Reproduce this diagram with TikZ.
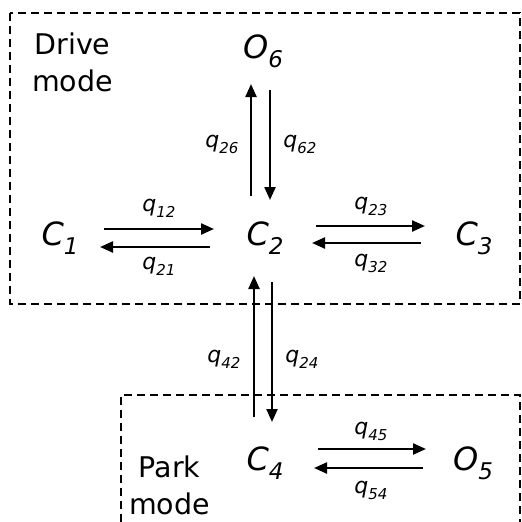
\documentclass[tikz,border=0pt]{standalone}
\usepackage{fontspec}
\setmainfont{DejaVu Sans}
\usetikzlibrary{arrows.meta}
\newcommand\statelab[2]{\fontsize{32}{36}\selectfont\itshape #1\raisebox{-9pt}{\fontsize{23}{23}\selectfont #2}}
\newcommand\ratelab[1]{\fontsize{22}{24}\selectfont\itshape q\raisebox{-6pt}{\fontsize{15}{15}\selectfont #1}}
\begin{document}
\begin{tikzpicture}[x=1pt,y=-1pt,
  arr/.style={line width=2.3pt,-{Triangle[length=13pt,width=11pt]}},
  box/.style={line width=1.4pt,dash pattern=on 8pt off 5pt},
  st/.style={anchor=base,inner sep=0pt},
  rl/.style={anchor=base,inner sep=0pt},
  modetext/.style={anchor=north,align=center,inner sep=0pt,font=\fontsize{28.5}{37}\selectfont}]
\useasboundingbox (0,0) rectangle (522,522);
% mode boxes
\draw[box] (10,13) rectangle (520,304);
\draw[box] (121,522) -- (121,395) -- (520,395) -- (520,522);
\node[modetext] (drive) at (72.5,33) {Drive\\mode};
\node[modetext] (park) at (169.5,456) {Park\\mode};
% states
\node[st] (o6) at (263,58) {\statelab{O}{6}};
\node[st] (c1) at (60,245) {\statelab{C}{1}};
\node[st] (c2) at (265,245) {\statelab{C}{2}};
\node[st] (c3) at (474,245) {\statelab{C}{3}};
\node[st] (c4) at (265,470) {\statelab{C}{4}};
\node[st] (o5) at (473,470) {\statelab{O}{5}};
% connector end points
\coordinate (a12s) at (104,229); \coordinate (a12e) at (214,229);
\coordinate (a21s) at (210,247); \coordinate (a21e) at (100,247);
\coordinate (a23s) at (316,226); \coordinate (a23e) at (425,226);
\coordinate (a32s) at (421,243); \coordinate (a32e) at (312,243);
\coordinate (a26s) at (251,196); \coordinate (a26e) at (251,84);
\coordinate (a62s) at (270,90);  \coordinate (a62e) at (270,200);
\coordinate (a42s) at (254,417); \coordinate (a42e) at (254,276);
\coordinate (a24s) at (272,282); \coordinate (a24e) at (272,422);
\coordinate (a45s) at (318,449); \coordinate (a45e) at (426,449);
\coordinate (a54s) at (423,468); \coordinate (a54e) at (314,468);
\draw[arr] (a12s) -- (a12e);
\draw[arr] (a21s) -- (a21e);
\draw[arr] (a23s) -- (a23e);
\draw[arr] (a32s) -- (a32e);
\draw[arr] (a26s) -- (a26e);
\draw[arr] (a62s) -- (a62e);
\draw[arr] (a42s) -- (a42e);
\draw[arr] (a24s) -- (a24e);
\draw[arr] (a45s) -- (a45e);
\draw[arr] (a54s) -- (a54e);
% rate labels
\node[rl] (q12) at (159,211) {\ratelab{12}};
\node[rl] (q21) at (159,269) {\ratelab{21}};
\node[rl] (q23) at (371,209) {\ratelab{23}};
\node[rl] (q32) at (371,266) {\ratelab{32}};
\node[rl] (q26) at (222,147) {\ratelab{26}};
\node[rl] (q62) at (300,147) {\ratelab{62}};
\node[rl] (q42) at (224,362) {\ratelab{42}};
\node[rl] (q24) at (302,362) {\ratelab{24}};
\node[rl] (q45) at (371,434) {\ratelab{45}};
\node[rl] (q54) at (371,493) {\ratelab{54}};
\end{tikzpicture}
\end{document}
